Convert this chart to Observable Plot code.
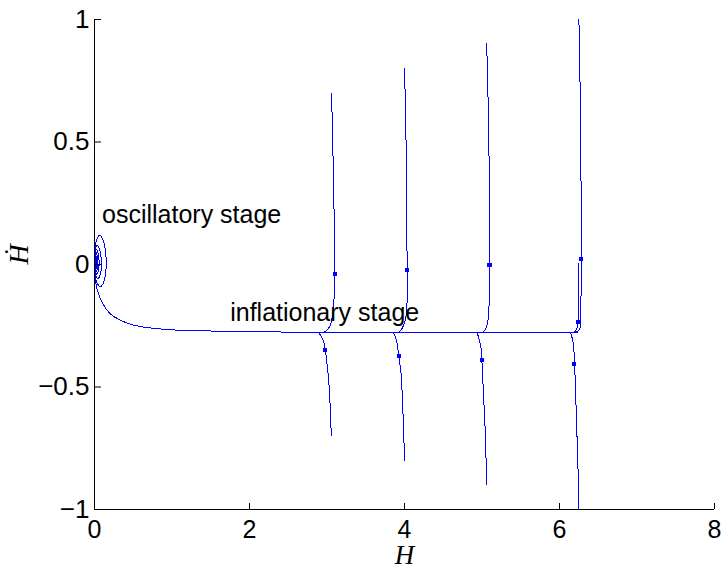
<!DOCTYPE html>
<html>
<head>
<meta charset="utf-8">
<script src="https://cdn.jsdelivr.net/npm/d3@7"></script>
<script src="https://cdn.jsdelivr.net/npm/@observablehq/plot@0.6"></script>
<style>
  html, body { margin: 0; padding: 0; background: #fff; }
</style>
</head>
<body>
<div id="chart"></div>
<script>
// ---- tick values ----
const xTicks = [0, 2, 4, 6, 8];
const yTicks = [-1, -0.5, 0, 0.5, 1];

// ---- trajectories [H, dH/dt] ----
// attractor (inflationary stage) flowing into the oscillatory spiral
const attractor = [
  [6.23, -0.277], [5.0, -0.277], [4.0, -0.277], [3.0, -0.277], [2.5, -0.276],
  [2.14, -0.274], [1.41, -0.271], [1.02, -0.267], [0.695, -0.258], [0.50, -0.247],
  [0.33, -0.227], [0.20, -0.200], [0.105, -0.158], [0.036, -0.104], [0.008, -0.05],
  // outer loop
  [0.003, 0.015], [0.018, 0.09], [0.07, 0.12], [0.125, 0.085], [0.15, 0.015],
  [0.13, -0.06], [0.08, -0.09], [0.025, -0.07],
  // second loop
  [0.002, 0.01], [0.01, 0.06], [0.038, 0.078], [0.07, 0.055], [0.088, 0.01],
  [0.075, -0.04], [0.045, -0.057], [0.012, -0.04],
  // third loop
  [0.001, 0.01], [0.007, 0.048], [0.026, 0.06], [0.048, 0.043], [0.06, 0.01],
  [0.05, -0.025], [0.03, -0.04], [0.008, -0.028],
  // inner loops
  [0.001, 0.01], [0.005, 0.04], [0.018, 0.05], [0.035, 0.035], [0.045, 0.01],
  [0.037, -0.015], [0.02, -0.03], [0.005, -0.02],
  [0.001, 0.01], [0.004, 0.032], [0.014, 0.04], [0.026, 0.028], [0.034, 0.008],
  [0.028, -0.01], [0.015, -0.022], [0.004, -0.015],
  [0.001, 0.008], [0.003, 0.025], [0.01, 0.032], [0.02, 0.022], [0.026, 0.006],
  [0.02, -0.008], [0.01, -0.016], [0.003, -0.01],
  [0.001, 0.005], [0.003, 0.02], [0.008, 0.024], [0.014, 0.016], [0.018, 0.004],
  [0.013, -0.006], [0.007, -0.01], [0.002, -0.005], [0.002, 0.004]
];
const trajA = [
  [3.055, 0.70], [3.064, 0.631], [3.077, 0.454], [3.09, 0.236], [3.098, -0.04],
  [3.09, -0.145], [3.077, -0.199], [3.034, -0.254], [2.978, -0.274], [2.93, -0.277]
];
const trajB = [
  [3.055, -0.70], [3.043, -0.594], [3.021, -0.471], [2.995, -0.39], [2.978, -0.349],
  [2.948, -0.308], [2.884, -0.277], [2.84, -0.277]
];
const trajC = [
  [4.0, 0.80], [4.012, 0.644], [4.025, 0.413], [4.033, -0.022], [4.025, -0.199],
  [3.99, -0.247], [3.925, -0.277], [3.88, -0.277]
];
const trajD = [
  [4.0, -0.80], [3.99, -0.689], [3.973, -0.553], [3.956, -0.444], [3.925, -0.372],
  [3.904, -0.322], [3.853, -0.277], [3.81, -0.277]
];
const trajE = [
  [5.058, 0.90], [5.071, 0.794], [5.088, 0.495], [5.101, 0.134], [5.097, -0.002],
  [5.093, -0.104], [5.084, -0.213], [5.058, -0.254], [5.023, -0.274], [4.98, -0.277]
];
const trajF = [
  [5.058, -0.90], [5.054, -0.825], [5.045, -0.703], [5.028, -0.587], [5.015, -0.499],
  [4.998, -0.39], [4.985, -0.336], [4.959, -0.301], [4.929, -0.277], [4.89, -0.277]
];
const trajG = [
  [6.25, 1.0], [6.26, 0.862], [6.273, 0.522], [6.282, 0.021], [6.277, -0.158],
  [6.269, -0.254], [6.247, -0.27], [6.208, -0.277], [6.17, -0.277]
];
const trajG2 = [
  [6.251, 0.005], [6.245, -0.15], [6.238, -0.233], [6.225, -0.26], [6.186, -0.277], [6.15, -0.277]
];
const trajH = [
  [6.251, -1.0], [6.243, -0.88], [6.229, -0.73], [6.216, -0.607], [6.204, -0.471],
  [6.191, -0.406], [6.186, -0.349], [6.169, -0.308], [6.134, -0.277], [6.09, -0.277]
];

// direction markers on the trajectories
const markerH  = [3.098, 2.978, 4.033, 3.925, 5.097, 4.998, 6.282, 6.238, 6.191];
const markerHd = [-0.04, -0.349, -0.022, -0.372, -0.002, -0.39, 0.021, -0.233, -0.406];

// annotations
const noteText = ["oscillatory stage", "inflationary stage"];
const noteH    = [0.097, 1.751];
const noteHd   = [0.168, -0.229];

// ---- build tables ----
const series = { attractor, trajA, trajB, trajC, trajD, trajE, trajF, trajG, trajG2, trajH };
const rows = [];
for (const [id, arr] of Object.entries(series)) {
  for (const [H, Hd] of arr) rows.push({ id, H, Hd });
}
const markers = markerH.map((H, i) => ({ H, Hd: markerHd[i] }));
const notes = noteText.map((t, i) => ({ t, H: noteH[i], Hd: noteHd[i] }));
const fmt = d3.format("~g");

const chart = Plot.plot({
  width: 726,
  height: 568,
  marginLeft: 94,
  marginRight: 12,
  marginTop: 19,
  marginBottom: 59,
  x: { domain: [0, 8], label: null },
  y: { domain: [-1, 1], label: null },
  style: { fontFamily: "'Liberation Sans', Arial, sans-serif", fontSize: "26px", background: "#fff", color: "#000" },
  marks: [
    Plot.line(rows, { x: "H", y: "Hd", z: "id", stroke: "#0000ff", strokeWidth: 1, curve: "catmull-rom", shapeRendering: "crispEdges" }),
    Plot.dot(markers, { x: "H", y: "Hd", symbol: "square", r: 2.3, fill: "#0000ff", stroke: "none", shapeRendering: "crispEdges" }),
    Plot.ruleY([-1], { stroke: "#000" }),
    Plot.ruleX([0], { stroke: "#000" }),
    Plot.tickX(xTicks, { x: d => d, stroke: "#000", insetTop: 484 }),
    Plot.tickY(yTicks, { y: d => d, stroke: "#000", insetRight: 613 }),
    Plot.axisX(xTicks, { tickSize: 0, tickPadding: 11, tickFormat: fmt, label: null, fontSize: 25 }),
    Plot.axisY(yTicks, { tickSize: 0, tickPadding: 5, tickFormat: fmt, label: null, fontSize: 26 }),
    Plot.text(notes, { x: "H", y: "Hd", text: "t", textAnchor: "start", lineAnchor: "bottom", fontSize: 25, fill: "#000" }),
    Plot.text(["H"], { frameAnchor: "bottom", dy: 54, lineAnchor: "bottom", fontStyle: "italic",
      fontFamily: "'Liberation Serif', 'DejaVu Serif', serif", fontSize: 27, fill: "#000" }),
    Plot.text(["\u1E22"], { frameAnchor: "left", dx: -75, rotate: -90, lineAnchor: "middle", fontStyle: "italic",
      fontFamily: "'Liberation Serif', 'DejaVu Serif', serif", fontSize: 28, fill: "#000" })
  ]
});
document.getElementById("chart").append(chart);
</script>
</body>
</html>
